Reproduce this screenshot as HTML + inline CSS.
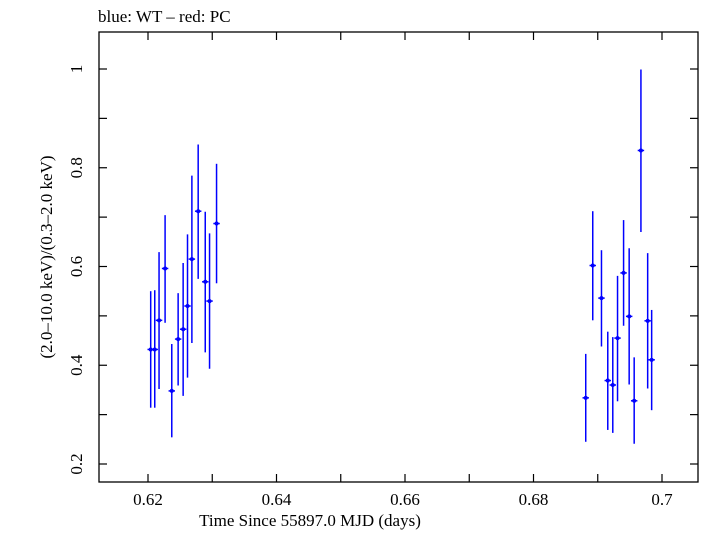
<!DOCTYPE html>
<html><head><meta charset="utf-8"><style>
body{margin:0;background:#fff;}
svg text{font-family:"Liberation Serif",serif;fill:#000;}
</style></head><body>
<svg id="chart" width="705" height="532" xmlns="http://www.w3.org/2000/svg">
<text x="98" y="22" font-size="17">blue: WT – red: PC</text>
<rect x="99" y="32" width="599" height="450" fill="none" stroke="#000" stroke-width="1.3"/>
<g id="ticks"></g>
<g id="marks"></g>
<text x="310" y="526" font-size="17" text-anchor="middle">Time Since 55897.0 MJD (days)</text>
<text transform="translate(52,257) rotate(-90)" font-size="17" text-anchor="middle">(2.0–10.0 keV)/(0.3–2.0 keV)</text>
</svg>
<script>
const times=[0.62042,0.62105,0.62172,0.62266,0.62370,0.62469,0.62547,0.62615,0.62683,0.62781,0.62891,0.62958,0.63067,
0.68813,0.68922,0.69058,0.69156,0.69234,0.69308,0.69402,0.69489,0.69567,0.69672,0.69777,0.69839];
const ratios=[0.432,0.432,0.491,0.596,0.348,0.453,0.473,0.520,0.615,0.712,0.569,0.530,0.687,
0.334,0.602,0.536,0.369,0.360,0.455,0.587,0.499,0.328,0.835,0.490,0.411];
const ratioHi=[0.550,0.552,0.629,0.704,0.443,0.546,0.607,0.665,0.784,0.847,0.711,0.667,0.808,
0.423,0.712,0.633,0.468,0.457,0.581,0.694,0.637,0.416,0.999,0.627,0.512];
const ratioLo=[0.314,0.314,0.352,0.486,0.254,0.359,0.338,0.375,0.445,0.575,0.426,0.393,0.566,
0.245,0.491,0.438,0.269,0.263,0.327,0.480,0.361,0.241,0.670,0.353,0.309];
const xTickValues=[0.62,0.63,0.64,0.65,0.66,0.67,0.68,0.69,0.70];
const xTickLabels=["0.62","","0.64","","0.66","","0.68","","0.7"];
const yTickValues=[0.2,0.3,0.4,0.5,0.6,0.7,0.8,0.9,1.0];
const yTickLabels=["0.2","","0.4","","0.6","","0.8","","1"];
const halfWidth=0.0005;
const X=v=>148+(v-0.62)*(662-148)/0.08;
const Y=v=>464-(v-0.2)*(464-69)/0.8;
const NS="http://www.w3.org/2000/svg";
function mk(tag,attrs,parent){const e=document.createElementNS(NS,tag);for(const k in attrs)e.setAttribute(k,attrs[k]);parent.appendChild(e);return e;}
const tg=document.getElementById('ticks');
xTickValues.forEach((v,i)=>{
 const x=X(v);
 const t1=mk('line',{x1:x,x2:x,y1:482,y2:474,stroke:'#000','stroke-width':1.2},tg);
 
 
 const t2=mk('line',{x1:x,x2:x,y1:32,y2:40,stroke:'#000','stroke-width':1.2},tg);
 
 
 if(xTickLabels[i]){const t=mk('text',{x:x,y:505,'font-size':17,'text-anchor':'middle'},tg);t.textContent=xTickLabels[i];
 
 }
});
yTickValues.forEach((v,i)=>{
 const y=Y(v);
 const t1=mk('line',{x1:99,x2:107,y1:y,y2:y,stroke:'#000','stroke-width':1.2},tg);
 
 
 const t2=mk('line',{x1:698,x2:690,y1:y,y2:y,stroke:'#000','stroke-width':1.2},tg);
 
 
 if(yTickLabels[i]){const t=mk('text',{transform:`translate(82,${y}) rotate(-90)`,'font-size':17,'text-anchor':'middle'},tg);t.textContent=yTickLabels[i];
 
 }
});
const mg=document.getElementById('marks');
times.forEach((t,i)=>{
 const g=mk('g',{},mg);
 
 
 const x=X(t);
 mk('line',{x1:x,x2:x,y1:Y(ratioHi[i]),y2:Y(ratioLo[i]),stroke:'#0000ff','stroke-width':1.5},g);
 mk('line',{x1:X(t-halfWidth),x2:X(t+halfWidth),y1:Y(ratios[i]),y2:Y(ratios[i]),stroke:'#0000ff','stroke-width':1.5},g);
 mk('circle',{cx:x,cy:Y(ratios[i]),r:2,fill:'#0000ff'},g);
});
</script>
</body></html>
